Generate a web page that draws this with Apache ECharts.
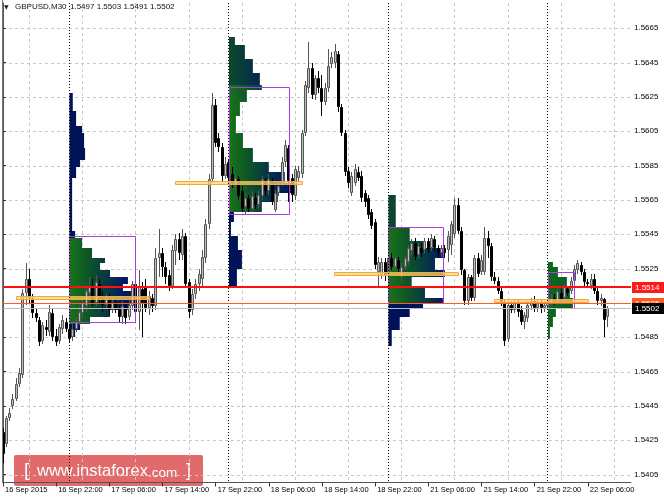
<!DOCTYPE html>
<html><head><meta charset="utf-8">
<script src="https://cdn.jsdelivr.net/npm/echarts@6/dist/echarts.min.js"></script>
<style>html,body{margin:0;padding:0;background:#fff}#c{width:664px;height:498px}</style>
</head><body><div id="c"></div>
<script>
// ---- data ----
const xTickBars = [0,16,32,48,64,80,96,112,128,144,160,176];
const xTickLabels = ['16 Sep 2015','16 Sep 22:00','17 Sep 06:00','17 Sep 14:00','17 Sep 22:00','18 Sep 06:00','18 Sep 14:00','18 Sep 22:00','21 Sep 06:00','21 Sep 14:00','21 Sep 22:00','22 Sep 06:00'];
const xGridBars = [8,24,40,56,72,88,104,120,136,152,168,184];
const daySeparators = [20,68,116,164];
const yTicks = [1.5405,1.5425,1.5445,1.5465,1.5485,1.5505,1.5525,1.5545,1.5565,1.5585,1.5605,1.5625,1.5645,1.5665];

const opens = [1.5430,1.5423,1.5438,1.5445,1.5449,1.5458,1.5463,1.5511,1.5519,1.5508,
1.5499,1.5495,1.5483,1.5491,1.5488,1.5499,1.5486,1.5483,1.5490,1.5494,
1.5490,1.5485,1.5490,1.5494,1.5499,1.5503,1.5511,1.5515,1.5505,1.5516,
1.5508,1.5504,1.5507,1.5501,1.5505,1.5502,1.5497,1.5503,1.5497,1.5503,
1.5516,1.5500,1.5513,1.5514,1.5502,1.5508,1.5503,1.5531,1.5534,1.5526,
1.5521,1.5515,1.5535,1.5542,1.5533,1.5544,1.5517,1.5501,1.5510,1.5516,
1.5519,1.5531,1.5551,1.5577,1.5620,1.5601,1.5596,1.5579,1.5587,1.5580,
1.5574,1.5577,1.5570,1.5561,1.5566,1.5560,1.5566,1.5562,1.5567,1.5576,
1.5570,1.5576,1.5559,1.5569,1.5575,1.5587,1.5595,1.5578,1.5567,1.5578,
1.5580,1.5604,1.5630,1.5642,1.5626,1.5636,1.5630,1.5622,1.5630,1.5644,
1.5645,1.5650,1.5619,1.5604,1.5582,1.5569,1.5575,1.5581,1.5579,1.5569,
1.5566,1.5558,1.5552,1.5523,1.5521,1.5529,1.5522,1.5531,1.5526,1.5530,
1.5520,1.5526,1.5529,1.5535,1.5540,1.5533,1.5537,1.5536,1.5541,1.5537,
1.5542,1.5537,1.5534,1.5537,1.5536,1.5539,1.5545,1.5562,1.5547,1.5524,
1.5506,1.5520,1.5508,1.5531,1.5523,1.5523,1.5543,1.5538,1.5520,1.5518,
1.5512,1.5505,1.5484,1.5504,1.5501,1.5505,1.5501,1.5494,1.5496,1.5503,
1.5506,1.5502,1.5505,1.5502,1.5503,1.5505,1.5508,1.5506,1.5511,1.5508,
1.5513,1.5512,1.5518,1.5524,1.5527,1.5523,1.5517,1.5515,1.5519,1.5512,
1.5506,1.5507,1.5497];
const highs = [1.5432,1.5439,1.5444,1.5452,1.5461,1.5467,1.5513,1.5528,1.5525,1.5510,
1.5502,1.5497,1.5494,1.5495,1.5504,1.5502,1.5490,1.5493,1.5498,1.5496,
1.5492,1.5493,1.5497,1.5503,1.5509,1.5514,1.5520,1.5519,1.5521,1.5519,
1.5512,1.5510,1.5510,1.5508,1.5507,1.5504,1.5506,1.5505,1.5507,1.5518,
1.5519,1.5524,1.5517,1.5519,1.5512,1.5510,1.5537,1.5548,1.5537,1.5529,
1.5524,1.5539,1.5545,1.5546,1.5548,1.5546,1.5519,1.5513,1.5519,1.5525,
1.5536,1.5554,1.5580,1.5627,1.5624,1.5604,1.5598,1.5590,1.5589,1.5584,
1.5580,1.5579,1.5573,1.5569,1.5568,1.5570,1.5569,1.5570,1.5579,1.5578,
1.5580,1.5578,1.5571,1.5576,1.5590,1.5600,1.5597,1.5580,1.5585,1.5585,
1.5606,1.5634,1.5657,1.5645,1.5638,1.5640,1.5638,1.5633,1.5653,1.5651,
1.5656,1.5652,1.5621,1.5606,1.5584,1.5581,1.5586,1.5584,1.5582,1.5571,
1.5568,1.5560,1.5554,1.5532,1.5531,1.5531,1.5533,1.5534,1.5533,1.5532,
1.5528,1.5533,1.5539,1.5542,1.5543,1.5540,1.5540,1.5543,1.5543,1.5545,
1.5544,1.5539,1.5539,1.5539,1.5547,1.5553,1.5566,1.5566,1.5549,1.5525,
1.5522,1.5521,1.5533,1.5534,1.5533,1.5549,1.5547,1.5540,1.5523,1.5520,
1.5514,1.5507,1.5506,1.5506,1.5507,1.5507,1.5503,1.5500,1.5506,1.5508,
1.5509,1.5507,1.5507,1.5506,1.5507,1.5510,1.5510,1.5514,1.5513,1.5516,
1.5515,1.5520,1.5527,1.5530,1.5529,1.5525,1.5519,1.5522,1.5522,1.5514,
1.5510,1.5508,1.5503];
const lows = [1.5412,1.5421,1.5436,1.5443,1.5448,1.5456,1.5461,1.5504,1.5505,1.5496,
1.5494,1.5480,1.5481,1.5486,1.5486,1.5483,1.5480,1.5481,1.5487,1.5488,
1.5482,1.5483,1.5488,1.5492,1.5496,1.5500,1.5506,1.5503,1.5503,1.5505,
1.5500,1.5502,1.5498,1.5499,1.5499,1.5494,1.5493,1.5493,1.5495,1.5501,
1.5495,1.5489,1.5485,1.5500,1.5498,1.5500,1.5501,1.5520,1.5520,1.5516,
1.5512,1.5513,1.5527,1.5530,1.5530,1.5514,1.5496,1.5498,1.5507,1.5512,
1.5515,1.5528,1.5548,1.5575,1.5596,1.5593,1.5576,1.5577,1.5575,1.5572,
1.5571,1.5565,1.5558,1.5557,1.5558,1.5558,1.5560,1.5560,1.5565,1.5567,
1.5568,1.5562,1.5558,1.5567,1.5573,1.5584,1.5564,1.5564,1.5565,1.5576,
1.5578,1.5602,1.5627,1.5624,1.5623,1.5627,1.5614,1.5620,1.5628,1.5642,
1.5642,1.5616,1.5602,1.5579,1.5572,1.5567,1.5573,1.5576,1.5564,1.5561,
1.5554,1.5548,1.5525,1.5515,1.5519,1.5518,1.5519,1.5524,1.5524,1.5523,
1.5518,1.5524,1.5527,1.5533,1.5530,1.5531,1.5532,1.5534,1.5534,1.5535,
1.5535,1.5532,1.5532,1.5531,1.5529,1.5533,1.5543,1.5545,1.5521,1.5504,
1.5504,1.5506,1.5506,1.5520,1.5521,1.5521,1.5531,1.5518,1.5516,1.5510,
1.5503,1.5480,1.5482,1.5499,1.5499,1.5497,1.5492,1.5490,1.5494,1.5501,
1.5500,1.5500,1.5499,1.5500,1.5501,1.5503,1.5504,1.5504,1.5505,1.5506,
1.5509,1.5510,1.5516,1.5522,1.5521,1.5515,1.5514,1.5513,1.5510,1.5504,
1.5503,1.5485,1.5491];
const closes = [1.5417,1.5438,1.5441,1.5449,1.5458,1.5464,1.5511,1.5519,1.5508,1.5499,
1.5496,1.5482,1.5492,1.5489,1.5500,1.5485,1.5482,1.5491,1.5495,1.5490,
1.5484,1.5490,1.5494,1.5500,1.5505,1.5512,1.5515,1.5505,1.5517,1.5508,
1.5504,1.5507,1.5501,1.5505,1.5502,1.5497,1.5503,1.5496,1.5504,1.5516,
1.5500,1.5514,1.5505,1.5502,1.5509,1.5503,1.5531,1.5534,1.5526,1.5520,
1.5515,1.5536,1.5542,1.5534,1.5544,1.5516,1.5500,1.5510,1.5516,1.5522,
1.5532,1.5551,1.5577,1.5620,1.5598,1.5596,1.5579,1.5586,1.5578,1.5574,
1.5578,1.5567,1.5560,1.5566,1.5560,1.5567,1.5562,1.5568,1.5577,1.5570,
1.5577,1.5564,1.5569,1.5573,1.5587,1.5597,1.5576,1.5568,1.5583,1.5582,
1.5604,1.5632,1.5642,1.5626,1.5636,1.5630,1.5622,1.5630,1.5643,1.5648,
1.5652,1.5619,1.5604,1.5581,1.5575,1.5579,1.5583,1.5578,1.5566,1.5564,
1.5556,1.5550,1.5527,1.5529,1.5529,1.5521,1.5531,1.5526,1.5531,1.5525,
1.5526,1.5531,1.5537,1.5540,1.5532,1.5538,1.5534,1.5541,1.5536,1.5543,
1.5537,1.5534,1.5537,1.5534,1.5544,1.5551,1.5562,1.5547,1.5524,1.5506,
1.5520,1.5508,1.5531,1.5522,1.5530,1.5543,1.5538,1.5520,1.5518,1.5512,
1.5505,1.5483,1.5504,1.5501,1.5505,1.5500,1.5494,1.5498,1.5504,1.5506,
1.5502,1.5505,1.5502,1.5504,1.5505,1.5508,1.5506,1.5512,1.5507,1.5514,
1.5511,1.5518,1.5525,1.5528,1.5523,1.5517,1.5516,1.5519,1.5512,1.5506,
1.5508,1.5495,1.5502];

// market profiles: rows [priceLow, priceHigh, lengthInBars]
const profileStarts = [20, 68, 116, 164];
const profile1 = [[1.5617,1.5627,1.0],[1.5608,1.5617,2.0],[1.5604,1.5608,3.8],[1.5595,1.5604,4.4],[1.5588,1.5595,4.7],[1.5584,1.5588,3.2],[1.5578,1.5584,2.0],[1.5547,1.5578,0.8],[1.5543,1.5547,1.7],[1.5537,1.5543,3.8],[1.5531,1.5537,6.8],[1.5528,1.5531,10.7],[1.5524,1.5528,9.2],[1.5520,1.5524,12.2],[1.5516,1.5520,17.6],[1.5512,1.5516,16.1],[1.5510,1.5512,18.8],[1.5505,1.5510,19.4],[1.5501,1.5505,18.2],[1.5497,1.5501,12.2],[1.5493,1.5497,6.2],[1.5489,1.5493,3.2],[1.5485,1.5489,1.7]];
const profile2 = [[1.5655,1.5660,1.8],[1.5647,1.5655,4.8],[1.5639,1.5647,7.2],[1.5632,1.5639,9.3],[1.5629,1.5632,9.9],[1.5622,1.5629,5.4],[1.5614,1.5622,3.3],[1.5604,1.5614,2.1],[1.5595,1.5604,4.2],[1.5587,1.5595,7.2],[1.5581,1.5587,12.0],[1.5575,1.5581,16.8],[1.5569,1.5575,20.5],[1.5564,1.5569,14.7],[1.5558,1.5564,9.9],[1.5552,1.5558,1.5],[1.5544,1.5552,0.6],[1.5536,1.5544,2.7],[1.5525,1.5536,3.9],[1.5514,1.5525,2.4]];
const profile3 = [[1.5549,1.5568,2.2],[1.5541,1.5549,6.4],[1.5537,1.5541,11.0],[1.5531,1.5537,16.4],[1.5524,1.5531,14.0],[1.5520,1.5524,17.0],[1.5514,1.5520,7.0],[1.5508,1.5514,11.0],[1.5505,1.5508,16.4],[1.5502,1.5505,10.4],[1.5497,1.5502,6.4],[1.5489,1.5497,3.4],[1.5480,1.5489,1.0]];
const profile4 = [[1.5526,1.5529,1.5],[1.5520,1.5526,3.0],[1.5514,1.5520,5.7],[1.5508,1.5514,6.6],[1.5502,1.5508,7.5],[1.5497,1.5502,2.4],[1.5491,1.5497,1.5],[1.5484,1.5491,0.6]];
// value areas: [fromBar, toBar, priceLow, priceHigh]
const valueAreas = [[20,39.8,1.5494,1.5544],[68,86,1.5557,1.5631],[116,132.7,1.5505,1.5549],[164,171.8,1.5502,1.5523]];
// points of control: [fromBar, toBar, price]
const pocs = [[3.9,43.9,1.5508],[51.7,90,1.5575],[99.6,136.9,1.5522],[147.7,176,1.5506]];
const priceLines = [1.5514, 1.5505, 1.5502];

// ---- chart ----
const chart = echarts.init(document.getElementById('c'), null, {renderer:'canvas'});
const FONT = 'Liberation Sans, Arial, DejaVu Sans, sans-serif';
const candleData = opens.map((o,i)=>[i,o,closes[i],lows[i],highs[i]]);

function candleItem(params, api){
  const i=api.value(0),o=api.value(1),c=api.value(2),l=api.value(3),h=api.value(4);
  const pO=api.coord([i,o]),pC=api.coord([i,c]),pL=api.coord([i,l]),pH=api.coord([i,h]);
  const col=Math.floor(pO[0]); const cx=col+0.5;
  const bull=c>=o;
  const top=Math.round(Math.min(pO[1],pC[1])), bot=Math.round(Math.max(pO[1],pC[1]));
  const bh=Math.max(bot-top,1);
  const edge = bull ? '#555555' : '#000';
  return {type:'group',children:[
    {type:'line',shape:{x1:cx,y1:Math.round(pH[1]),x2:cx,y2:Math.round(pL[1])},style:{stroke:edge,lineWidth:1}},
    {type:'rect',shape:{x:col-0.5,y:top+0.5,width:2,height:Math.max(bh-1,0)},style:{fill:bull?'#bdbdbd':'#000',stroke:edge,lineWidth:1}}
  ]};
}

function profileSeries(rows, k){
  const start=profileStarts[k], va=valueAreas[k];
  return {type:'custom',clip:true,z:1,data:rows,encode:{x:2,y:[0,1]},silent:true,
    renderItem(params, api){
      const lo=api.value(0),hi=api.value(1),len=api.value(2);
      const a=api.coord([start,hi]), b=api.coord([start+len,lo]);
      const mid=(lo+hi)/2;
      const inVA = mid>=va[2] && mid<=va[3];
      let fill;
      if (k===3) {
        fill={type:'linear',x:a[0],y:0,x2:a[0]+40,y2:0,global:true,colorStops:[{offset:0,color:'#0f6a1c'},{offset:1,color:'#0b4a38'}]};
      } else if (inVA) {
        fill={type:'linear',x:a[0],y:0,x2:a[0]+55,y2:0,global:true,colorStops:[{offset:0,color:'#187418'},{offset:0.35,color:'#0d5528'},{offset:1,color:'#001a60'}]};
      } else if (mid>va[3] && k>0) {
        fill={type:'linear',x:a[0],y:0,x2:a[0]+40,y2:0,global:true,colorStops:[{offset:0,color:'#0c4a2c'},{offset:1,color:'#002058'}]};
      } else {
        fill='#001258';
      }
      return {type:'rect',shape:{x:a[0],y:Math.round(a[1]),width:b[0]-a[0],height:Math.max(Math.round(b[1])-Math.round(a[1]),1)},style:{fill}};
    }};
}

const vaSeries = {type:'custom',clip:true,z:4,silent:true,data:valueAreas,encode:{x:[0,1],y:[2,3]},
  renderItem(params, api){
    const a=api.coord([api.value(0),api.value(3)]), b=api.coord([api.value(1),api.value(2)]);
    return {type:'rect',shape:{x:Math.round(a[0])+0.5,y:Math.round(a[1])+0.5,width:Math.round(b[0]-a[0]),height:Math.round(b[1]-a[1])},style:{fill:'none',stroke:'#a63ee0',lineWidth:1}};
  }};
const pocSeries = {type:'custom',clip:true,z:5,silent:true,data:pocs,encode:{x:[0,1],y:2},
  renderItem(params, api){
    const a=api.coord([api.value(0),api.value(2)]), b=api.coord([api.value(1),api.value(2)]);
    return {type:'rect',shape:{x:Math.round(a[0])+0.5,y:Math.round(a[1])-1.5,width:Math.round(b[0]-a[0]),height:3},style:{fill:'rgba(255,214,120,0.75)',stroke:'#f2a93b',lineWidth:1}};
  }};

// horizontal grid lines
const hGridSeries = {type:'custom',z:0,silent:true,clip:false,data:yTicks.map(v=>[0,v]),encode:{x:0,y:1},
  renderItem(params, api){
    const cs=params.coordSys; const y=Math.round(api.coord([0,api.value(1)])[1])+0.5;
    return {type:'line',shape:{x1:cs.x,y1:y,x2:cs.x+cs.width,y2:y},style:{stroke:'#c9c9c9',lineWidth:1,lineDash:[3,3]}};
  }};
// vertical grid lines
function vLineSeries(list, z, color, dash){
  return {type:'custom',z,silent:true,clip:false,data:list.map(v=>[v,yTicks[0]]),encode:{x:0,y:1},
    renderItem(params, api){
      const cs=params.coordSys; const x=Math.floor(api.coord([api.value(0),api.value(1)])[0])+0.5;
      return {type:'line',shape:{x1:x,y1:cs.y,x2:x,y2:cs.y+cs.height},style:{stroke:color,lineWidth:1,lineDash:dash}};
    }};
}
// price lines with right-hand labels
function priceLineSeries(value, z, color, width, labelBg){
  return {type:'custom',z,silent:true,clip:false,data:[[0,value]],encode:{x:0,y:1},
    renderItem(params, api){
      const cs=params.coordSys; const yr=api.coord([0,api.value(1)])[1];
      const y = width%2 ? Math.round(yr)+0.5 : Math.round(yr);
      const ch=[{type:'line',shape:{x1:cs.x,y1:y,x2:cs.x+cs.width,y2:y},style:{stroke:color,lineWidth:width}}];
      if (labelBg) {
        const yc=Math.round(yr);
        ch.push({type:'rect',shape:{x:cs.x+cs.width+1,y:yc-5,width:32,height:11},style:{fill:labelBg}});
        ch.push({type:'text',x:cs.x+cs.width+4,y:yc+0.5,style:{text:api.value(1).toFixed(4),fill:'#fff',fontSize:8,fontFamily:FONT,verticalAlign:'middle',align:'left'}});
      }
      return {type:'group',children:ch};
    }};
}

const option = {
  animation:false,
  backgroundColor:'#ffffff',
  grid:{left:3,right:33,top:3,bottom:15.5,show:false},
  xAxis:{type:'value',min:0,max:189,position:'bottom',
    axisLine:{show:true,onZero:false,lineStyle:{color:'#555',width:1}},
    axisTick:{show:true,length:4,inside:false,customValues:xTickBars,lineStyle:{color:'#333'}},
    axisLabel:{show:true,customValues:xTickBars,align:'left',margin:3,padding:[0,0,0,2],fontSize:7.5,fontFamily:FONT,color:'#000',
      formatter:(v)=>{const k=xTickBars.indexOf(Math.round(v));return k>=0?xTickLabels[k]:'';}},
    splitLine:{show:false}},
  yAxis:{type:'value',min:1.54004,max:1.56797,position:'right',scale:true,
    axisLine:{show:true,lineStyle:{color:'#555',width:1}},
    axisTick:{show:true,length:3,inside:false,customValues:yTicks,lineStyle:{color:'#333'}},
    axisLabel:{show:true,customValues:yTicks,align:'left',margin:3,fontSize:8,fontFamily:FONT,color:'#000',formatter:(v)=>v.toFixed(4)},
    splitLine:{show:false}},
  series:[
    hGridSeries,
    vLineSeries(xGridBars, 0, '#c9c9c9', [3,3]),
    profileSeries(profile1,0),profileSeries(profile2,1),profileSeries(profile3,2),profileSeries(profile4,3),
    {type:'custom',z:3,silent:true,clip:true,data:candleData,encode:{x:0,y:[1,2,3,4]},renderItem:candleItem},
    vaSeries, pocSeries,
    vLineSeries(daySeparators, 6, '#000', [1,2]),
    priceLineSeries(priceLines[2], 7, '#bdbdbd', 1, null),
    priceLineSeries(priceLines[1], 8, '#ff5a28', 1, '#ff5a1e'),
    priceLineSeries(priceLines[0], 9, '#ff1010', 2, '#ff1a1a'),
    priceLineSeries(priceLines[2], 10, 'rgba(0,0,0,0)', 1, '#000000')
  ],
  graphic:[
    {type:'line',shape:{x1:2.5,y1:0,x2:2.5,y2:483},style:{stroke:'#777',lineWidth:1},z:10},
    {type:'text',left:4,top:4,style:{text:'▼',fontSize:6,fill:'#222',fontFamily:'DejaVu Sans'},z:10},
    {type:'text',left:15,top:3,style:{text:'GBPUSD,M30',fontSize:8,fill:'#111',fontFamily:FONT},z:10},
    {type:'text',left:70,top:3,style:{text:'1.5497 1.5503 1.5491 1.5502',fontSize:8,fill:'#111',fontFamily:FONT},z:10},
    {type:'group',left:14,top:455,z:20,children:[
      {type:'rect',shape:{x:0,y:0,width:189,height:31,r:2},style:{fill:'rgba(222,80,80,0.85)'}},
      {type:'text',x:10,y:16,style:{text:'[',fontSize:19,fill:'#fff',fontFamily:FONT,verticalAlign:'middle'}},
      {type:'text',x:23,y:16,style:{text:'www.instaforex',fontSize:16.5,fill:'#fff',fontFamily:FONT,verticalAlign:'middle'}},
      {type:'text',x:134,y:18,style:{text:'.com',fontSize:13.5,fill:'#fff',fontFamily:FONT,verticalAlign:'middle'}},
      {type:'text',x:172,y:16,style:{text:']',fontSize:19,fill:'#fff',fontFamily:FONT,verticalAlign:'middle'}}
    ]}
  ]
};
chart.setOption(option);
</script>
</body></html>
